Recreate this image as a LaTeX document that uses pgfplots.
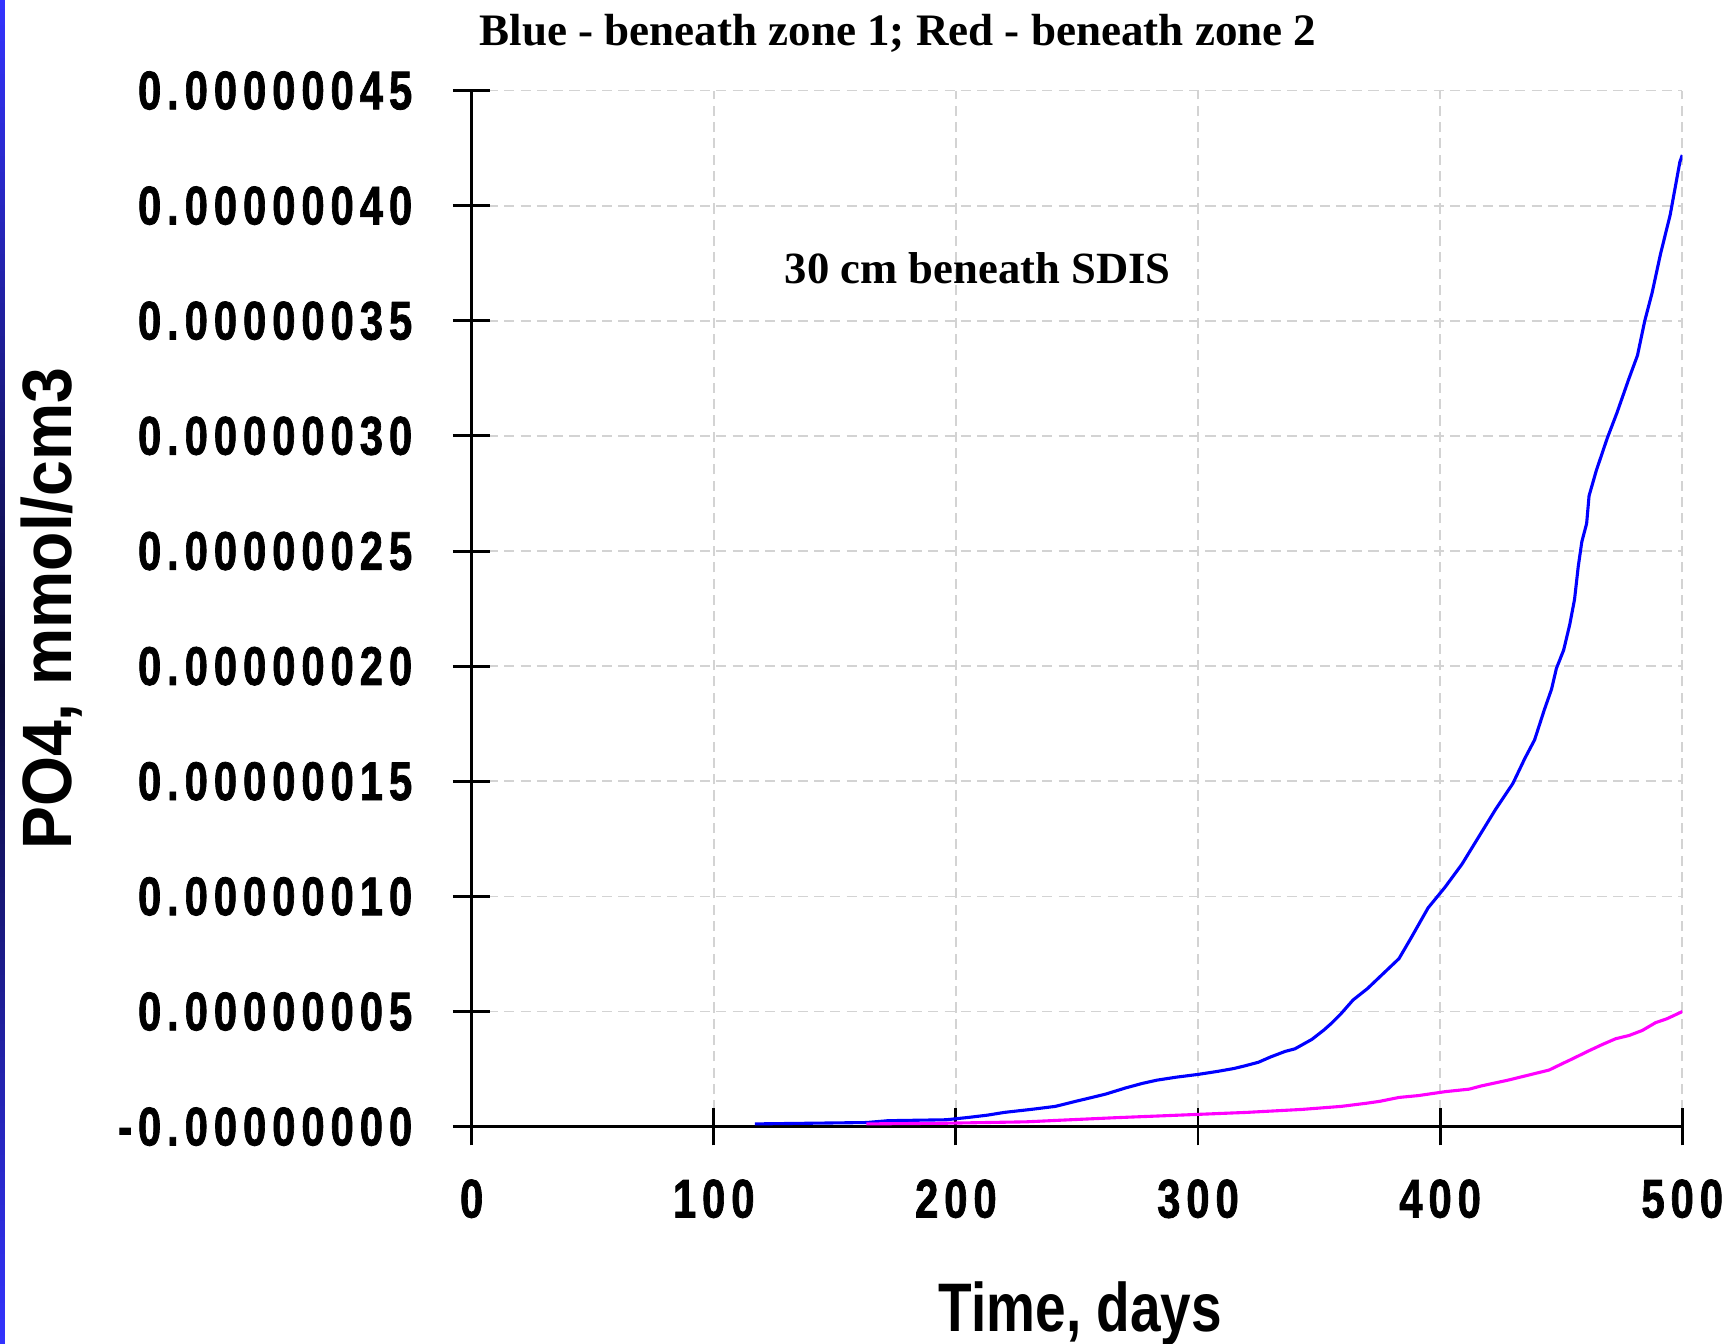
\documentclass[border=0pt]{standalone}
\usepackage{fontspec}
\setmainfont{Liberation Serif}
\newfontfamily\sansfont{Liberation Sans}
\newfontfamily\tickfont[LetterSpace=14, FakeBold=1.5]{Liberation Sans}
\usepackage{pgfplots}
\pgfplotsset{compat=1.18}
\definecolor{gridgray}{RGB}{211,211,211}
\definecolor{stripeblue}{RGB}{51,51,255}
\definecolor{stripedark}{RGB}{10,10,50}
\definecolor{zoneblue}{RGB}{0,0,255}
\definecolor{zonepink}{RGB}{255,0,255}

% concentrations in units of 1e-7 mmol/cm3
\pgfplotstableread{
day  po4
117  0.012
140  0.015
163  0.018
172  0.026
196  0.030
205  0.040
213  0.050
220  0.062
231  0.075
241  0.088
246  0.101
251  0.114
257  0.129
262  0.142
266  0.155
270  0.168
277  0.188
283  0.202
291  0.215
300  0.227
308  0.240
315  0.253
320  0.266
325  0.280
330  0.303
336  0.327
340  0.338
347  0.379
352  0.42
355  0.448
359  0.49
364  0.55
370  0.60
377  0.67
383  0.73
388  0.82
395  0.95
402  1.04
409  1.14
416  1.26
423  1.38
430  1.49
435  1.60
439  1.68
443  1.81
446  1.90
448  1.99
451  2.07
453.5 2.18
455.5 2.29
457  2.43
458.5 2.54
460.5 2.62
461.5 2.74
464.5 2.85
469  2.99
473  3.10
478  3.25
481.5 3.35
484.5 3.50
487.5 3.62
491  3.79
495  3.96
499  4.19
500  4.22
}\zoneone

\pgfplotstableread{
day  po4
163  0.012
196  0.015
229  0.021
243  0.028
266  0.039
292  0.050
320  0.062
343  0.075
359  0.088
369  0.101
375  0.110
383  0.127
391  0.135
402  0.152
412  0.163
417  0.177
428  0.202
436.5 0.224
445  0.246
450.5 0.274
454.5 0.294
461.5 0.33
467  0.357
472.5 0.382
478  0.396
483.5 0.418
489  0.452
493.5 0.468
498  0.49
500  0.50
}\zonetwo

\begin{document}
\begin{tikzpicture}
\begin{axis}[
  at={(0,0)}, anchor=south west,
  scale only axis,
  width=10.96cm, height=9.38cm,
  xmin=0, xmax=500, ymin=0, ymax=4.5,
  axis lines=left,
  axis line style={-, line width=0.7pt},
  every tick/.style={black, line width=0.75pt},
  major tick length=0.34cm,
  tick align=center,
  xtick={0,100,200,300,400,500},
  xticklabels={0,100,200,300,400,500},
  ytick={0,0.5,1,1.5,2,2.5,3,3.5,4,4.5},
  yticklabels={-0.00000000,0.00000005,0.00000010,0.00000015,0.00000020,0.00000025,0.00000030,0.00000035,0.00000040,0.00000045},
  yticklabel style={font=\tickfont\bfseries\fontsize{10.8}{12}\selectfont, yscale=1.3, anchor=east, inner sep=0pt, xshift=-0.36cm},
  xticklabel style={font=\tickfont\bfseries\fontsize{10.8}{12}\selectfont, yscale=1.3, anchor=north, inner sep=0pt, yshift=-0.23cm},
  grid=major,
  major grid style={gridgray, line width=0.45pt, dash pattern=on 2.6pt off 1.6pt},
]
\addplot[zoneblue, line width=0.8pt] table[x=day, y=po4] {\zoneone};
\addplot[zonepink, line width=0.8pt] table[x=day, y=po4] {\zonetwo};
\node[font=\bfseries\fontsize{11.5}{13}\selectfont, anchor=base] at (axis cs:209,3.66) {30 cm beneath SDIS};
\end{axis}
\node[font=\bfseries\fontsize{11.6}{13}\selectfont, anchor=base] at (3.86,9.79) {Blue - beneath zone 1; Red - beneath zone 2};
\node[font=\sansfont\bfseries\fontsize{17.7}{20}\selectfont, anchor=base, xscale=0.8] at (5.51,-1.856) {Time, days};
\node[font=\sansfont\bfseries\fontsize{18}{20}\selectfont, anchor=base, rotate=90, xscale=0.92] at (-3.62,4.69) {PO4, mmol/cm3};
\pgfresetboundingbox
\path (-4.27,-1.96) rectangle (11.41,10.2);
\shade[top color=stripeblue, bottom color=stripeblue, middle color=stripedark] (-4.27,-1.96) rectangle (-4.225,10.2);
\end{tikzpicture}
\end{document}
